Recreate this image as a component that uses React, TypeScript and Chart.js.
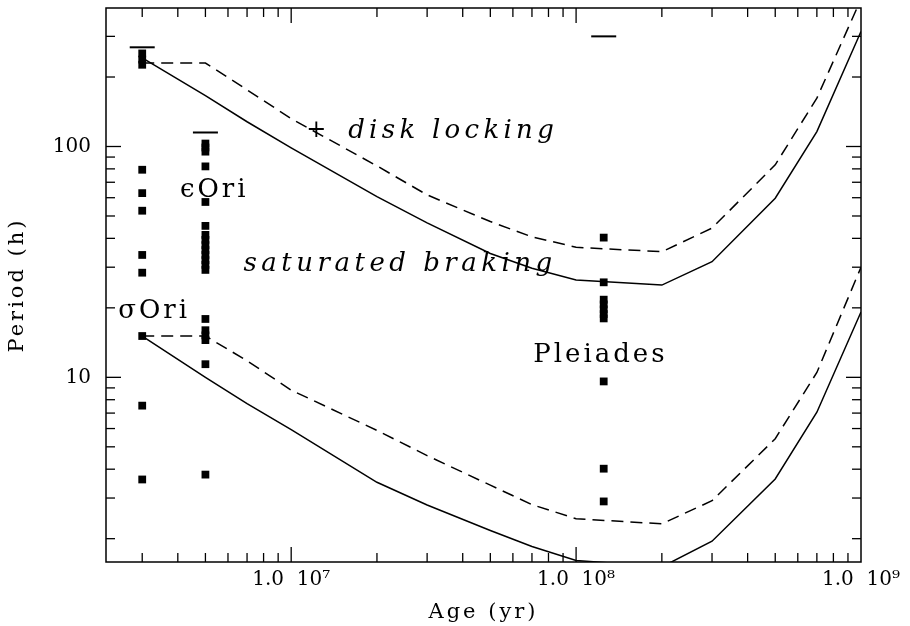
import { useEffect, useRef } from "react";
import { Chart, registerables } from "chart.js";

Chart.register(...registerables);

// ---- data ----
const modelAges = [3e6, 5e6, 7e6, 1e7, 2e7, 3e7, 5e7, 7e7, 1e8, 2e8, 3e8, 5e8, 7e8, 1e9];
const slowSaturated = [242, 166, 128, 98.7, 60.7, 46.7, 34.4, 29.7, 26.4, 25.1, 31.7, 59.7, 116, 315];
const slowDiskLocked = [230, 230, 176, 132, 82.4, 61.7, 47.3, 40.6, 36.6, 35.0, 44.3, 83.3, 162, 435];
const fastSaturated = [15.1, 10.0, 7.7, 5.94, 3.51, 2.8, 2.17, 1.85, 1.61, 1.51, 1.95, 3.63, 7.06, 19.2];
const fastDiskLocked = [15.1, 15.1, 11.8, 8.8, 5.89, 4.58, 3.41, 2.81, 2.44, 2.32, 2.92, 5.42, 10.5, 30];

const sigmaOriAge = 3e6;
const sigmaOriPeriods = [253, 238, 226, 79.3, 62.8, 52.7, 33.9, 28.4, 15.1, 7.54, 3.61];
const epsOriAge = 5e6;
const epsOriPeriods = [103, 99, 95, 82, 57.5, 45.3, 41.4, 39.4, 37.4, 35.6, 33.9, 32.2, 30.7, 29.2, 17.9, 16.0, 15.2, 14.5, 11.4, 3.79];
const pleiadesAge = 1.25e8;
const pleiadesPeriods = [40.3, 25.8, 21.7, 20.7, 19.7, 18.8, 18.0, 9.6, 4.02, 2.9];

const limitAges = [3e6, 5e6, 1.25e8];
const limitPeriods = [269, 115, 300];

const xMajorTicks = [1e7, 1e8, 1e9];
const yMajorTicks = [10, 100];
const xMin = Math.pow(10, 6.35);
const xMax = 1e9;
const yMin = Math.pow(10, 0.2);
const yMax = Math.pow(10, 2.6);

const supDigits: Record<string, string> = { "0": "⁰", "1": "¹", "2": "²", "3": "³", "4": "⁴", "5": "⁵", "6": "⁶", "7": "⁷", "8": "⁸", "9": "⁹" };

type Note = { text: string; age: number; period: number; italic: boolean; size: number; spacing: number; center?: boolean };
const notes: Note[] = [
  { text: "+", age: 1.224e7, period: 117, italic: false, size: 24, spacing: 0, center: true },
  { text: "disk locking", age: 1.585e7, period: 109, italic: true, size: 26, spacing: 4.3 },
  { text: "saturated braking", age: 6.8e6, period: 28.9, italic: true, size: 26, spacing: 4.5 },
  { text: "ϵOri", age: 4.07e6, period: 60.5, italic: false, size: 26, spacing: 3 },
  { text: "σOri", age: 2.47e6, period: 18.0, italic: false, size: 26, spacing: 3 },
  { text: "Pleiades", age: 7.07e7, period: 11.6, italic: false, size: 26, spacing: 3 },
];

const FONT = '"DejaVu Serif", serif';

const pairs = (xs: number[], ys: number[]) => xs.map((x, i) => ({ x, y: ys[i] }));
const column = (age: number, ys: number[]) => ys.map((y) => ({ x: age, y }));

const decorPlugin = {
  id: "decor",
  afterDraw(chart: any) {
    const { ctx, chartArea: a, scales } = chart;
    const x = scales.x;
    const y = scales.y;
    ctx.save();
    ctx.strokeStyle = "#000";
    ctx.lineWidth = 1.3;
    const seg = (x1: number, y1: number, x2: number, y2: number) => {
      ctx.beginPath();
      ctx.moveTo(x1, y1);
      ctx.lineTo(x2, y2);
      ctx.stroke();
    };
    // inward ticks on all four sides
    for (let e = 6; e <= 9; e++) {
      for (let k = 1; k <= 9; k++) {
        const v = k * Math.pow(10, e);
        if (v < x.min || v > x.max * 0.999) continue;
        const px = x.getPixelForValue(v);
        const len = k === 1 ? 15 : 9;
        seg(px, a.bottom, px, a.bottom - len);
        seg(px, a.top, px, a.top + len);
      }
    }
    for (let e = 0; e <= 2; e++) {
      for (let k = 1; k <= 9; k++) {
        const v = k * Math.pow(10, e);
        if (v < y.min || v > y.max) continue;
        const py = y.getPixelForValue(v);
        const len = k === 1 ? 15 : 9;
        seg(a.left, py, a.left + len, py);
        seg(a.right, py, a.right - len, py);
      }
    }
    ctx.lineWidth = 1.5;
    ctx.strokeRect(a.left, a.top, a.right - a.left, a.bottom - a.top);

    // annotations
    ctx.fillStyle = "#000";
    for (const n of notes) {
      ctx.font = `${n.italic ? "italic " : ""}${n.size}px ${FONT}`;
      (ctx as any).letterSpacing = `${n.spacing}px`;
      const px = x.getPixelForValue(n.age);
      const py = y.getPixelForValue(n.period);
      if (n.center) {
        ctx.textAlign = "center";
        ctx.textBaseline = "middle";
      } else {
        ctx.textAlign = "left";
        ctx.textBaseline = "alphabetic";
      }
      ctx.fillText(n.text, px, py);
    }

    // axis titles
    ctx.font = `21px ${FONT}`;
    (ctx as any).letterSpacing = "3px";
    ctx.textAlign = "center";
    ctx.textBaseline = "middle";
    ctx.fillText("Age (yr)", (a.left + a.right) / 2, 613);
    ctx.save();
    ctx.translate(18, (a.top + a.bottom) / 2);
    ctx.rotate(-Math.PI / 2);
    ctx.fillText("Period (h)", 0, 0);
    ctx.restore();
    (ctx as any).letterSpacing = "0px";
    ctx.restore();
  },
};

export default function App() {
  const ref = useRef<HTMLCanvasElement>(null);
  useEffect(() => {
    if (!ref.current) return;
    const lineStyle = { borderColor: "#000", borderWidth: 1.5, pointRadius: 0, showLine: true, fill: false, tension: 0 };
    const pointStyle = { type: "scatter" as const, backgroundColor: "#000", borderColor: "#000", pointStyle: "rect", pointRadius: 5.5, borderWidth: 0 };
    const chart = new Chart(ref.current, {
      type: "scatter",
      data: {
        datasets: [
          { ...lineStyle, type: "line", label: "slow saturated", data: pairs(modelAges, slowSaturated) },
          { ...lineStyle, type: "line", label: "slow disk locked", borderDash: [12, 7], data: pairs(modelAges, slowDiskLocked) },
          { ...lineStyle, type: "line", label: "fast saturated", data: pairs(modelAges, fastSaturated) },
          { ...lineStyle, type: "line", label: "fast disk locked", borderDash: [12, 7], data: pairs(modelAges, fastDiskLocked) },
          { ...pointStyle, label: "sigma Ori", data: column(sigmaOriAge, sigmaOriPeriods) },
          { ...pointStyle, label: "epsilon Ori", data: column(epsOriAge, epsOriPeriods) },
          { ...pointStyle, label: "Pleiades", data: column(pleiadesAge, pleiadesPeriods) },
          {
            type: "scatter",
            label: "limits",
            data: pairs(limitAges, limitPeriods),
            pointStyle: "line",
            pointRadius: 12.5,
            borderColor: "#000",
            borderWidth: 2,
          },
        ] as any,
      },
      options: {
        animation: false,
        responsive: true,
        maintainAspectRatio: false,
        layout: { autoPadding: false, padding: { top: 8, right: 49, left: 0, bottom: 0 } },
        plugins: { legend: { display: false }, tooltip: { enabled: false } },
        scales: {
          x: {
            type: "logarithmic",
            min: xMin,
            max: xMax,
            grid: { display: false, drawTicks: false },
            border: { display: false },
            ticks: {
              autoSkip: false,
              maxRotation: 0,
              padding: 6,
              color: "#000",
              font: { family: FONT, size: 20 },
              callback: (v: any) => {
                const e = Math.round(Math.log10(Number(v)));
                return "1.0  10" + String(e).split("").map((d) => supDigits[d]).join("");
              },
            },
            afterBuildTicks: (s: any) => {
              s.ticks = xMajorTicks.map((value) => ({ value }));
            },
            afterFit: (s: any) => {
              s.height = 64;
              s.paddingLeft = 0;
              s.paddingRight = 0;
            },
          },
          y: {
            type: "logarithmic",
            min: yMin,
            max: yMax,
            grid: { display: false, drawTicks: false },
            border: { display: false },
            ticks: {
              autoSkip: false,
              padding: 15,
              color: "#000",
              font: { family: FONT, size: 20 },
              callback: (v: any) => String(Number(v)),
            },
            afterBuildTicks: (s: any) => {
              s.ticks = yMajorTicks.map((value) => ({ value }));
            },
            afterFit: (s: any) => {
              s.width = 106;
              s.paddingTop = 0;
              s.paddingBottom = 0;
            },
          },
        },
      } as any,
      plugins: [decorPlugin],
    });
    return () => chart.destroy();
  }, []);
  return (
    <div style={{ position: "fixed", left: 0, top: 0, width: 910, height: 626, background: "#fff" }}>
      <canvas ref={ref} />
    </div>
  );
}
